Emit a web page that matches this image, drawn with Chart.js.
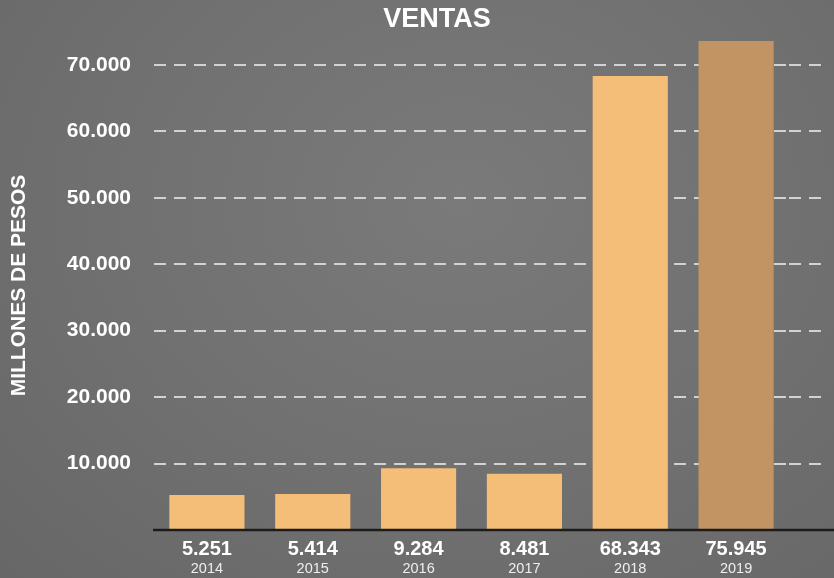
<!DOCTYPE html>
<html>
<head>
<meta charset="utf-8">
<script src="https://cdn.jsdelivr.net/npm/chart.js@4/dist/chart.umd.min.js"></script>
<style>
  html, body { margin: 0; padding: 0; }
  body {
    width: 834px; height: 578px; overflow: hidden;
    background: radial-gradient(ellipse at 55% 35%, #7a7a7a 0%, #717171 50%, #676767 100%);
  }
</style>
</head>
<body>
<canvas id="ventasChart" width="834" height="578"></canvas>
<script>
const years = ["2014", "2015", "2016", "2017", "2018", "2019"];
const ventas = [5251, 5414, 9284, 8481, 68343, 75945];
const barColors = ["#f4bd78", "#f4bd78", "#f4bd78", "#f4bd78", "#f4bd78", "#c29363"];
const yTicks = [10000, 20000, 30000, 40000, 50000, 60000, 70000];

// 70000 -> "70.000"
function fmt(v) {
    return String(v).replace(/\B(?=(\d{3})+(?!\d))/g, ".");
}
const valueLabels = ventas.map(fmt);

const FONT = "'Liberation Sans', Arial, sans-serif";

const extras = {
    id: "extras",
    beforeDatasetsDraw(chart) {
        // la cuadrícula sigue un poco más allá del área
        const { ctx, chartArea, scales } = chart;
        ctx.save();
        ctx.strokeStyle = "#d2d2d2";
        ctx.lineWidth = 2;
        ctx.setLineDash([12, 8]);
        yTicks.forEach(v => {
            const y = Math.round(scales.y.getPixelForValue(v));
            ctx.beginPath();
            ctx.moveTo(chartArea.right, y);
            ctx.lineTo(822, y);
            ctx.stroke();
        });
        ctx.restore();
    },
    afterDatasetsDraw(chart) {
        const { ctx, chartArea, scales } = chart;
        const y = scales.y.getPixelForValue(0);
        ctx.save();
        ctx.strokeStyle = "#1c1c1c";
        ctx.lineWidth = 2.5;
        ctx.beginPath();
        ctx.moveTo(chartArea.left - 1, y);
        ctx.lineTo(chart.width, y);
        ctx.stroke();

        ctx.fillStyle = "#ffffff";
        ctx.font = "bold 27px " + FONT;
        ctx.textAlign = "center";
        ctx.textBaseline = "middle";
        ctx.fillText("VENTAS", 437, 20);
        ctx.restore();
    }
};

const ctx = document.getElementById("ventasChart").getContext("2d");
new Chart(ctx, {
    type: "bar",
    data: {
        labels: valueLabels,
        datasets: [{
            data: ventas,
            backgroundColor: barColors,
            categoryPercentage: 1,
            barPercentage: 0.71,
            clip: 0
        }]
    },
    options: {
        responsive: false,
        animation: false,
        layout: { padding: { top: 41, right: 45, left: 0, bottom: 0 } },
        plugins: {
            legend: { display: false },
            tooltip: { enabled: false }
        },
        scales: {
            x: {
                position: "bottom",
                grid: { display: false, drawTicks: false },
                border: { display: false },
                ticks: {
                    color: "#ffffff",
                    font: { family: FONT, size: 20, weight: "bold" },
                    padding: 7,
                    maxRotation: 0
                },
                afterFit(s) { s.height = 28; }
            },
            x2: {
                type: "category",
                labels: years,
                position: "bottom",
                offset: true,
                grid: { display: false, drawTicks: false },
                border: { display: false },
                ticks: {
                    color: "#eeeeee",
                    font: { family: FONT, size: 14.5 },
                    padding: 2,
                    maxRotation: 0
                },
                afterFit(s) { s.height = 20; }
            },
            y: {
                min: 0,
                max: 73600,
                afterBuildTicks(s) {
                    s.ticks = [0].concat(yTicks).map(v => ({ value: v }));
                },
                grid: {
                    color: c => (c.tick && c.tick.value === 0) ? "rgba(0,0,0,0)" : "#d2d2d2",
                    lineWidth: 2,
                    drawTicks: false
                },
                border: { display: false, dash: [12, 8] },
                ticks: {
                    callback: v => v === 0 ? "" : fmt(v),
                    color: "#ffffff",
                    font: { family: FONT, size: 21, weight: "bold" },
                    padding: 23
                },
                title: {
                    display: true,
                    text: "MILLONES DE PESOS",
                    color: "#ffffff",
                    font: { family: FONT, size: 21, weight: "bold" },
                    padding: { top: 7, bottom: 0 }
                },
                afterFit(s) { s.width = 154; }
            }
        }
    },
    plugins: [extras]
});
</script>
</body>
</html>
